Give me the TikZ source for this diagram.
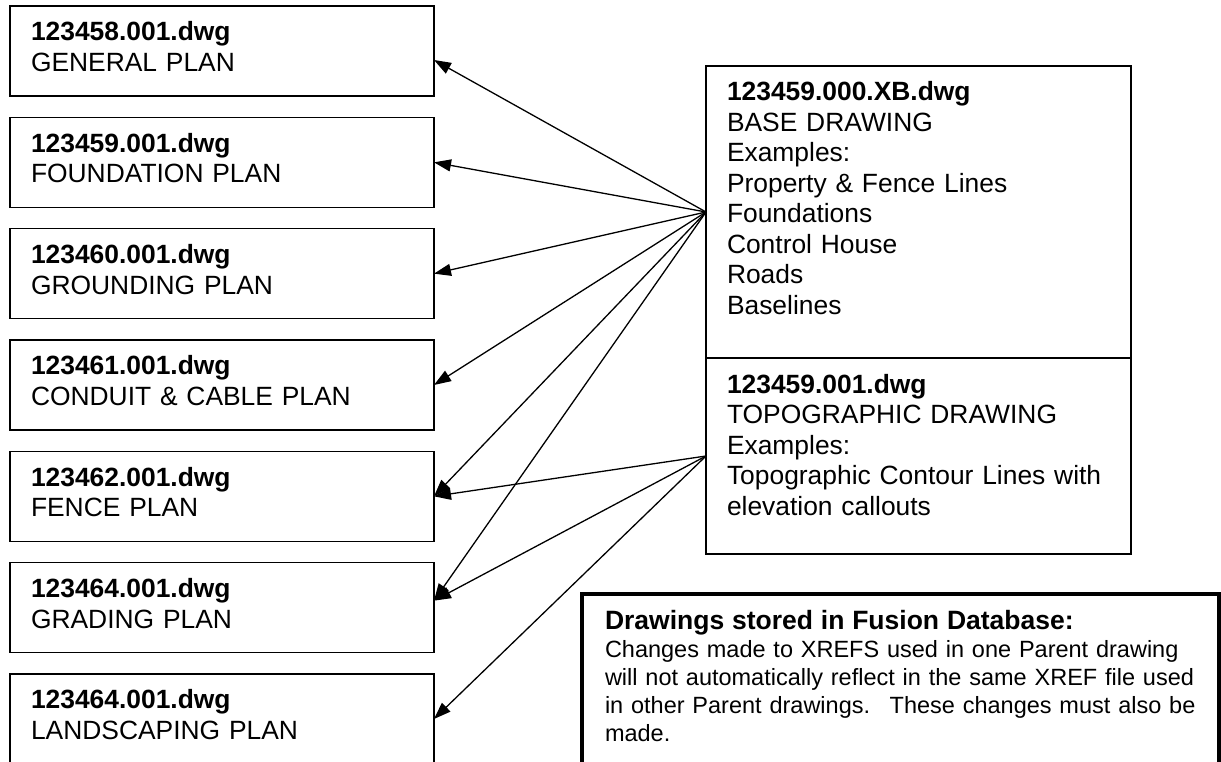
\documentclass[tikz,border=0pt]{standalone}
\usepackage{fontspec}
\setmainfont{Liberation Sans}
\usetikzlibrary{arrows.meta, positioning}
\newcommand{\dwgfont}{\fontsize{26.4}{30.5}\selectfont}
\newcommand{\notefont}{\fontsize{23.5}{28}\selectfont}

\begin{document}
\begin{tikzpicture}[x=1pt, y=-1pt,
  plan/.style={draw, line width=1.5pt, outer sep=0pt, anchor=north west, align=left,
    font=\dwgfont, inner xsep=21pt, inner ysep=0pt, text height=35pt, text width=382pt},
  arr/.style={line width=1.3pt, -{Triangle[length=17pt,width=12pt]}}]
\useasboundingbox (0,0) rectangle (1221,762);
% drawings on the left
\foreach \file/\title [count=\i] in {123458.001.dwg/GENERAL PLAN,
    123459.001.dwg/FOUNDATION PLAN, 123460.001.dwg/GROUNDING PLAN,
    123461.001.dwg/CONDUIT \& CABLE PLAN, 123462.001.dwg/FENCE PLAN,
    123464.001.dwg/GRADING PLAN, 123464.001.dwg/LANDSCAPING PLAN}
  \node[plan, text depth=55pt] (g\i) at (10,{6+111.33*(\i-1)}) {\textbf{\file}\\\title};
% xref drawings
\node[plan, text width=383pt, text depth=257pt] (base) at (706,66)
  {\textbf{123459.000.XB.dwg}\\BASE DRAWING\\Examples:\\Property \& Fence Lines\\
   Foundations\\Control House\\Roads\\Baselines};
\node[plan, text width=383pt, text depth=161pt] (topo) at (base.south west)
  {\textbf{123459.001.dwg}\\TOPOGRAPHIC DRAWING\\Examples:\\
   Topographic Contour Lines with\\elevation callouts};
% note
\node[draw, line width=3.5pt, outer sep=0pt, anchor=north west, align=left, font=\notefont,
  inner xsep=23pt, inner ysep=0pt, text height=35pt, text depth=200pt, text width=591pt]
  (note) at (582,594)
  {{\fontsize{26.5}{28}\selectfont\bfseries Drawings stored in Fusion Database:}\\
   Changes made to XREFS used in one Parent drawing\\
   will not automatically reflect in the same XREF file used\\
   in other Parent drawings.~ These changes must also be\\
   made.};
% references
\draw[arr] (base.west) -- ([yshift=-9pt]g1.east);
\foreach \i in {2,...,5} \draw[arr] (base.west) -- (g\i.east);
\draw[arr] (base.west) -- ([yshift=7pt]g6.east);
\draw[arr] (topo.west) -- (g5.east);
\draw[arr] (topo.west) -- ([yshift=7pt]g6.east);
\draw[arr] (topo.west) -- (g7.east);
\end{tikzpicture}
\end{document}
